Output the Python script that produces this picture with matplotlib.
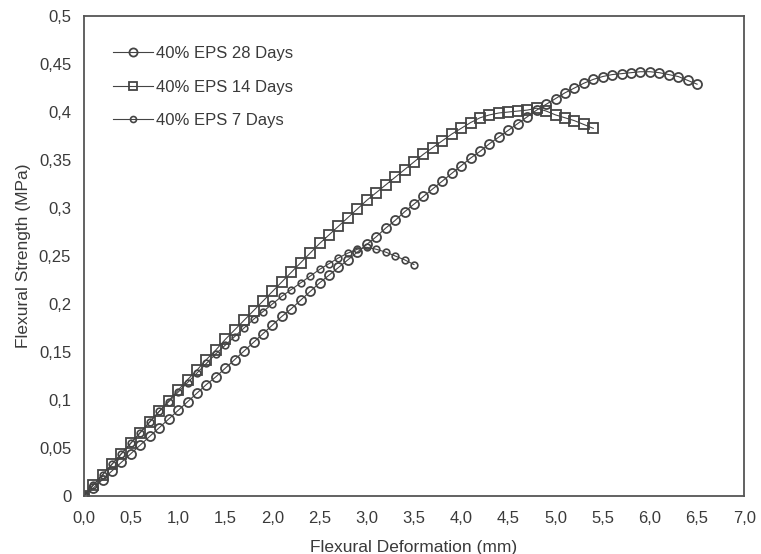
import numpy as np
import matplotlib.pyplot as plt

plt.rcParams['font.family'] = ['Liberation Sans', 'DejaVu Sans']

# 40% EPS 28 days
x28 = [0.0, 0.1, 0.2, 0.3, 0.4, 0.5, 0.6, 0.7, 0.8, 0.9,
       1.0, 1.1, 1.2, 1.3, 1.4, 1.5, 1.6, 1.7, 1.8, 1.9,
       2.0, 2.1, 2.2, 2.3, 2.4, 2.5, 2.6, 2.7, 2.8, 2.9,
       3.0, 3.1, 3.2, 3.3, 3.4, 3.5, 3.6, 3.7, 3.8, 3.9,
       4.0, 4.1, 4.2, 4.3, 4.4, 4.5, 4.6, 4.7, 4.8, 4.9,
       5.0, 5.1, 5.2, 5.3, 5.4, 5.5, 5.6, 5.7, 5.8, 5.9,
       6.0, 6.1, 6.2, 6.3, 6.4, 6.5]
y28 = [0.000, 0.008, 0.017, 0.026, 0.035, 0.044, 0.053, 0.062, 0.071, 0.080,
       0.089, 0.098, 0.107, 0.116, 0.124, 0.133, 0.142, 0.151, 0.160, 0.169,
       0.178, 0.187, 0.195, 0.204, 0.213, 0.222, 0.230, 0.238, 0.246, 0.254,
       0.262, 0.270, 0.279, 0.287, 0.296, 0.304, 0.312, 0.320, 0.328, 0.336,
       0.344, 0.352, 0.359, 0.367, 0.374, 0.381, 0.388, 0.395, 0.402, 0.408,
       0.414, 0.420, 0.425, 0.430, 0.434, 0.437, 0.439, 0.440, 0.441, 0.442,
       0.442, 0.441, 0.439, 0.437, 0.433, 0.429]

# 40% EPS 14 days
x14 = [0.0, 0.1, 0.2, 0.3, 0.4, 0.5, 0.6, 0.7, 0.8, 0.9,
       1.0, 1.1, 1.2, 1.3, 1.4, 1.5, 1.6, 1.7, 1.8, 1.9,
       2.0, 2.1, 2.2, 2.3, 2.4, 2.5, 2.6, 2.7, 2.8, 2.9,
       3.0, 3.1, 3.2, 3.3, 3.4, 3.5, 3.6, 3.7, 3.8, 3.9,
       4.0, 4.1, 4.2, 4.3, 4.4, 4.5, 4.6, 4.7, 4.8, 4.9,
       5.0, 5.1, 5.2, 5.3, 5.4]
y14 = [0.000, 0.011, 0.022, 0.033, 0.044, 0.055, 0.066, 0.077, 0.088, 0.099,
       0.110, 0.121, 0.131, 0.142, 0.152, 0.163, 0.173, 0.183, 0.193, 0.203,
       0.213, 0.223, 0.233, 0.243, 0.253, 0.263, 0.272, 0.281, 0.290, 0.299,
       0.308, 0.316, 0.324, 0.332, 0.340, 0.348, 0.356, 0.363, 0.370, 0.377,
       0.383, 0.389, 0.394, 0.397, 0.399, 0.400, 0.401, 0.402, 0.404, 0.401,
       0.397, 0.394, 0.391, 0.387, 0.383]

# 40% EPS 7 days
x7 = [0.0, 0.1, 0.2, 0.3, 0.4, 0.5, 0.6, 0.7, 0.8, 0.9,
      1.0, 1.1, 1.2, 1.3, 1.4, 1.5, 1.6, 1.7, 1.8, 1.9,
      2.0, 2.1, 2.2, 2.3, 2.4, 2.5, 2.6, 2.7, 2.8, 2.9,
      3.0, 3.1, 3.2, 3.3, 3.4, 3.5]
y7 = [0.000, 0.011, 0.022, 0.033, 0.044, 0.055, 0.066, 0.077, 0.088, 0.098,
      0.108, 0.118, 0.128, 0.138, 0.148, 0.157, 0.166, 0.175, 0.184, 0.192,
      0.200, 0.208, 0.215, 0.222, 0.229, 0.236, 0.242, 0.248, 0.253, 0.257,
      0.259, 0.257, 0.254, 0.250, 0.246, 0.241]

xticks = [0.0, 0.5, 1.0, 1.5, 2.0, 2.5, 3.0, 3.5, 4.0, 4.5, 5.0, 5.5, 6.0, 6.5, 7.0]
yticks = [0, 0.05, 0.1, 0.15, 0.2, 0.25, 0.3, 0.35, 0.4, 0.45, 0.5]

fig = plt.figure(figsize=(7.61, 5.54), dpi=100)
ax = fig.add_axes([0.110, 0.105, 0.868, 0.866])

ink = '#444444'
ax.plot(x28, y28, marker='o', ms=6.5, mfc='none', mec=ink, mew=1.3,
        color=ink, lw=0.8, label='40% EPS 28 Days')
ax.plot(x14, y14, marker='s', ms=6.5, mfc='none', mec=ink, mew=1.3,
        color=ink, lw=0.8, label='40% EPS 14 Days')
ax.plot(x7, y7, marker='o', ms=4.8, mfc='none', mec=ink, mew=1.2,
        color=ink, lw=0.8, label='40% EPS 7 Days')

ax.set_xlim(0, 7)
ax.set_ylim(0, 0.5)
ax.set_xticks(xticks)
ax.set_xticklabels([f'{v:.1f}'.replace('.', ',') for v in xticks])
ax.set_yticks(yticks)
ax.set_yticklabels([f'{v:g}'.replace('.', ',') for v in yticks])
ax.tick_params(length=0, labelsize=12, colors='#3a3a3a')
ax.tick_params(axis='x', pad=11)
ax.tick_params(axis='y', pad=9)

for s in ax.spines.values():
    s.set_color('#555555')
    s.set_linewidth(1.3)

ax.set_xlabel('Flexural Deformation (mm)', fontsize=12.5, color='#3a3a3a', labelpad=10)
ax.set_ylabel('Flexural Strength (MPa)', fontsize=12.5, color='#3a3a3a', labelpad=6)

ax.legend(loc='upper left', frameon=False, fontsize=12, labelcolor='#3a3a3a',
          bbox_to_anchor=(0.045, 0.937), borderaxespad=0, borderpad=0,
          handlelength=2.35, handletextpad=0.2, labelspacing=1.1,
          markerscale=0.9)

fig.savefig('out.png', dpi=100)
